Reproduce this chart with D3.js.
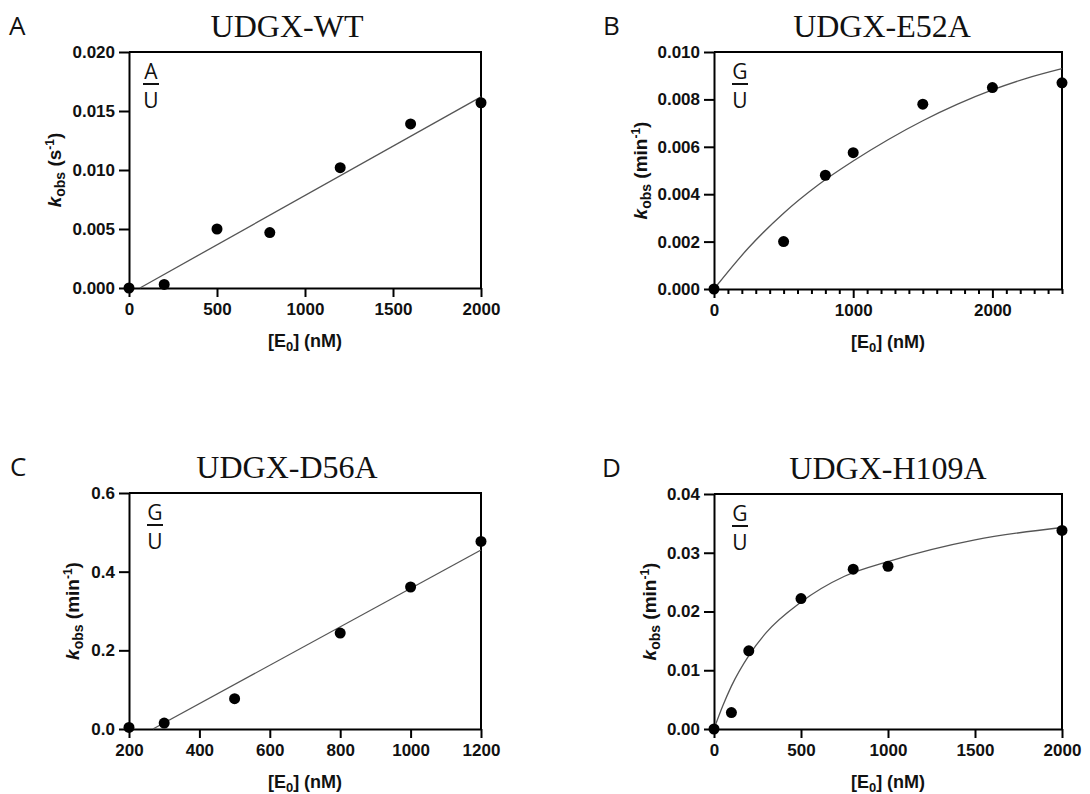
<!DOCTYPE html>
<html>
<head>
<meta charset="utf-8">
<script src="https://cdn.jsdelivr.net/npm/d3@7"></script>
<style>
  body { margin: 0; background: #fff; }
  svg { display: block; }
</style>
</head>
<body>
<div id="chart"></div>
<script>
// ---- data ----
// A: UDGX-WT, A/U substrate
const wtE0 = [0, 200, 500, 800, 1200, 1600, 2000];
const wtKobs = [0, 0.0003, 0.0050, 0.0047, 0.0102, 0.0139, 0.0157];
const wtFitE0 = [62, 2000];
const wtFitKobs = [0, 0.0162];

// B: UDGX-E52A, G/U substrate
const e52aE0 = [0, 500, 800, 1000, 1500, 2000, 2500];
const e52aKobs = [0, 0.0020, 0.0048, 0.00575, 0.0078, 0.0085, 0.0087];
const e52aFitE0 = [0, 250, 500, 750, 1000, 1250, 1500, 1750, 2000, 2250, 2500];
const e52aFitKobs = [0, 0.00175, 0.0032, 0.0044, 0.0054, 0.0063, 0.0071, 0.0078, 0.0084, 0.0089, 0.0093];

// C: UDGX-D56A, G/U substrate
const d56aE0 = [200, 300, 500, 800, 1000, 1200];
const d56aKobs = [0.004, 0.015, 0.077, 0.244, 0.361, 0.477];
const d56aFitE0 = [268, 1200];
const d56aFitKobs = [0, 0.455];

// D: UDGX-H109A, G/U substrate
const h109aE0 = [0, 100, 200, 500, 800, 1000, 2000];
const h109aKobs = [0, 0.0028, 0.0133, 0.0222, 0.0272, 0.0277, 0.0338];
const h109aFitE0 = [0, 50, 100, 200, 300, 500, 750, 1000, 1500, 2000];
const h109aFitKobs = [0, 0.0039, 0.0073, 0.0125, 0.0164, 0.0216, 0.0260, 0.0285, 0.0322, 0.0343];

// tick labels
const wtXTicks = [0, 500, 1000, 1500, 2000];
const wtYTicks = [0, 0.005, 0.010, 0.015, 0.020];
const e52aXTicks = [0, 1000, 2000];
const e52aYTicks = [0, 0.002, 0.004, 0.006, 0.008, 0.010];
const d56aXTicks = [200, 400, 600, 800, 1000, 1200];
const d56aYTicks = [0, 0.2, 0.4, 0.6];
const h109aXTicks = [0, 500, 1000, 1500, 2000];
const h109aYTicks = [0, 0.01, 0.02, 0.03, 0.04];

const titles = ["UDGX-WT", "UDGX-E52A", "UDGX-D56A", "UDGX-H109A"];
const letters = ["A", "B", "C", "D"];
const top_bases = ["A", "G", "G", "G"];
const yUnits = ["s", "min", "min", "min"];

// ---- build panels (layout kept separate from data) ----
const panels = [
  { pts: [wtE0, wtKobs], fit: [wtFitE0, wtFitKobs], xDom: [0, 2000], yDom: [0, 0.02],
    xTicks: wtXTicks, yTicks: wtYTicks, yFmt: ".3f", minor: null, curve: d3.curveLinear,
    box: { l: 129, r: 481, t: 52, b: 288 }, titleX: 287, letterX: 9, ylabOff: 74, fracOff: 22 },
  { pts: [e52aE0, e52aKobs], fit: [e52aFitE0, e52aFitKobs], xDom: [0, 2500], yDom: [0, 0.01],
    xTicks: e52aXTicks, yTicks: e52aYTicks, yFmt: ".3f", minor: 100, curve: d3.curveMonotoneX,
    box: { l: 714, r: 1062, t: 52, b: 289 }, titleX: 882, letterX: 603, ylabOff: 73, fracOff: 26 },
  { pts: [d56aE0, d56aKobs], fit: [d56aFitE0, d56aFitKobs], xDom: [200, 1200], yDom: [0, 0.6],
    xTicks: d56aXTicks, yTicks: d56aYTicks, yFmt: ".1f", minor: null, curve: d3.curveLinear,
    box: { l: 129, r: 481, t: 493, b: 729 }, titleX: 287, letterX: 10, ylabOff: 56, fracOff: 26 },
  { pts: [h109aE0, h109aKobs], fit: [h109aFitE0, h109aFitKobs], xDom: [0, 2000], yDom: [0, 0.04],
    xTicks: h109aXTicks, yTicks: h109aYTicks, yFmt: ".2f", minor: null, curve: d3.curveMonotoneX,
    box: { l: 714, r: 1062, t: 494, b: 729 }, titleX: 888, letterX: 602, ylabOff: 64, fracOff: 26 }
];

const W = 1090, H = 794;
const svg = d3.select("#chart").append("svg")
  .attr("width", W)
  .attr("height", H)
  .style("background", "#fff");

const sans = "'Liberation Sans', Arial, sans-serif";
const calib = "'Open Sans', Lato, sans-serif";

panels.forEach((p, i) => {
  const { l, r, t, b } = p.box;
  const x = d3.scaleLinear().domain(p.xDom).range([l, r]);
  const y = d3.scaleLinear().domain(p.yDom).range([b, t]);
  const g = svg.append("g");

  // panel letter and title
  g.append("text")
    .attr("x", p.letterX).attr("y", t - 17)
    .style("font-family", calib).style("font-size", "26px").style("fill", "#111")
    .text(letters[i]);
  g.append("text")
    .attr("x", p.titleX).attr("y", t - 15)
    .attr("text-anchor", "middle")
    .style("font-family", "'Liberation Serif', 'Times New Roman', serif")
    .style("font-size", "32px").style("fill", "#111")
    .text(titles[i]);

  // frame top and right
  g.append("line").attr("x1", l).attr("x2", r).attr("y1", t).attr("y2", t)
    .attr("stroke", "#000").attr("stroke-width", 2);
  g.append("line").attr("x1", r).attr("x2", r).attr("y1", t - 1).attr("y2", b)
    .attr("stroke", "#000").attr("stroke-width", 2);

  // minor ticks (panel B)
  if (p.minor) {
    const minorVals = d3.range(p.xDom[0], p.xDom[1] + 1, p.minor).filter(v => !p.xTicks.includes(v));
    g.append("g")
      .attr("transform", `translate(0,${b})`)
      .call(d3.axisBottom(x).tickValues(minorVals).tickSize(5).tickSizeOuter(0).tickFormat(""))
      .call(a => a.select(".domain").remove())
      .call(a => a.selectAll("line").attr("stroke", "#000").attr("stroke-width", 2));
  }

  // x axis
  const xAx = g.append("g")
    .attr("transform", `translate(0,${b})`)
    .call(d3.axisBottom(x).tickValues(p.xTicks).tickSize(9).tickSizeOuter(0)
      .tickPadding(6).tickFormat(d3.format("d")));
  // y axis
  const yAx = g.append("g")
    .attr("transform", `translate(${l},0)`)
    .call(d3.axisLeft(y).tickValues(p.yTicks).tickSize(10).tickSizeOuter(0)
      .tickPadding(4).tickFormat(d3.format(p.yFmt)));

  [xAx, yAx].forEach(a => {
    a.select(".domain").attr("stroke", "#000").attr("stroke-width", 2);
    a.selectAll(".tick line").attr("stroke", "#000").attr("stroke-width", 2);
    a.selectAll(".tick text")
      .style("font-family", sans).style("font-weight", "bold")
      .style("font-size", "17px").style("fill", "#111");
  });

  // axis titles
  const xl = g.append("text")
    .attr("x", (l + r) / 2).attr("y", b + 59)
    .attr("text-anchor", "middle")
    .style("font-family", sans).style("font-weight", "bold")
    .style("font-size", "18px").style("fill", "#111");
  xl.append("tspan").text("[E");
  xl.append("tspan").attr("dy", 4).style("font-size", "13px").text("0");
  xl.append("tspan").attr("dy", -4).text("] (nM)");

  const cy = (t + b) / 2;
  const yl = g.append("text")
    .attr("transform", `translate(${l - p.ylabOff + 6},${cy}) rotate(-90)`)
    .attr("text-anchor", "middle")
    .style("font-family", sans).style("font-weight", "bold")
    .style("font-size", "19px").style("fill", "#111");
  yl.append("tspan").style("font-style", "italic").text("k");
  yl.append("tspan").attr("dy", 4).style("font-size", "14px").text("obs");
  yl.append("tspan").attr("dy", -4).text(" (" + yUnits[i]);
  yl.append("tspan").attr("dy", -7).style("font-size", "12px").text("-1");
  yl.append("tspan").attr("dy", 7).text(")");

  // base-pair fraction label
  const fx = l + p.fracOff;
  g.append("text").attr("x", fx).attr("y", t + 27).attr("text-anchor", "middle")
    .style("font-family", calib).style("font-size", "21px").style("fill", "#111")
    .text(top_bases[i]);
  g.append("line").attr("x1", fx - 8).attr("x2", fx + 8).attr("y1", t + 32).attr("y2", t + 32)
    .attr("stroke", "#111").attr("stroke-width", 2);
  g.append("text").attr("x", fx).attr("y", t + 56).attr("text-anchor", "middle")
    .style("font-family", calib).style("font-size", "21px").style("fill", "#111")
    .text("U");

  // fit curve
  const fitData = p.fit[0].map((v, k) => ({ x: v, y: p.fit[1][k] }));
  g.append("path")
    .datum(fitData)
    .attr("fill", "none")
    .attr("stroke", "#555")
    .attr("stroke-width", 1.3)
    .attr("d", d3.line().x(d => x(d.x)).y(d => y(d.y)).curve(p.curve));

  // data points
  const ptData = p.pts[0].map((v, k) => ({ x: v, y: p.pts[1][k] }));
  g.selectAll("circle.pt")
    .data(ptData)
    .enter()
    .append("circle")
    .attr("class", "pt")
    .attr("cx", d => x(d.x))
    .attr("cy", d => y(d.y))
    .attr("r", 5.5)
    .attr("fill", "#000");
});
</script>
</body>
</html>
